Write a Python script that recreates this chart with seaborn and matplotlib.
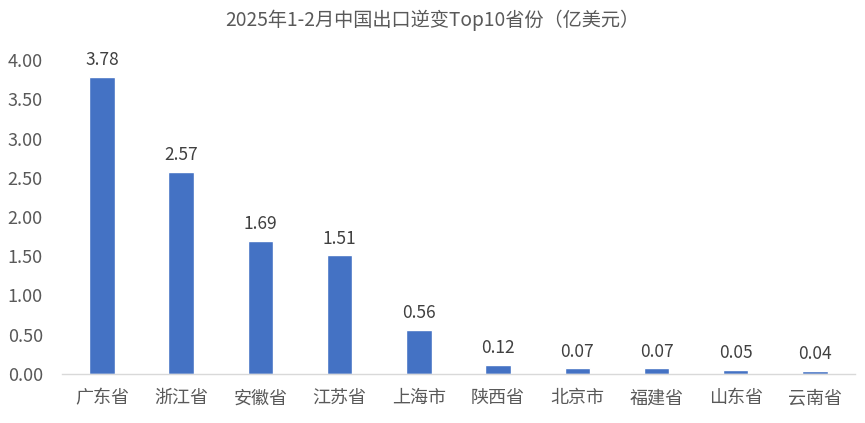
import pandas as pd
import matplotlib.pyplot as plt
import seaborn as sns

provinces = ["广东省", "浙江省", "安徽省", "江苏省", "上海市", "陕西省", "北京市", "福建省", "山东省", "云南省"]
values = [3.78, 2.57, 1.69, 1.51, 0.56, 0.12, 0.07, 0.07, 0.05, 0.04]
title = "2025年1-2月中国出口逆变Top10省份（亿美元）"

df = pd.DataFrame({"province": provinces, "value": values})

sns.set_style("white")
plt.rcParams["font.family"] = ["Noto Sans CJK SC", "DejaVu Sans"]

fig = plt.figure(figsize=(8.65, 4.23), dpi=100)
ax = fig.add_axes([0.072, 0.116, 0.916, 0.742])

sns.barplot(data=df, x="province", y="value", color="#4472C4", width=0.32,
            saturation=1, ax=ax)

for i, v in enumerate(values):
    ax.text(i, v + 0.1, f"{v:.2f}", ha="center", va="bottom", fontsize=12.5, color="#404040")

ax.set_ylim(0, 4)
ax.set_xlim(-0.5, len(provinces) - 0.5)
ax.set_yticks([i * 0.5 for i in range(9)])
ax.set_yticklabels([f"{i * 0.5:.2f}" for i in range(9)])
ax.set_xlabel("")
ax.set_ylabel("")
ax.tick_params(axis="both", length=0, labelsize=13, colors="#595959")
ax.tick_params(axis="x", pad=11)
ax.tick_params(axis="y", pad=14)
for s in ["top", "right", "left"]:
    ax.spines[s].set_visible(False)
ax.spines["bottom"].set_color("#D9D9D9")
ax.spines["bottom"].set_linewidth(1)

fig.suptitle(title, y=0.978, fontsize=13.8, color="#595959")

fig.savefig("out.png", dpi=100)
